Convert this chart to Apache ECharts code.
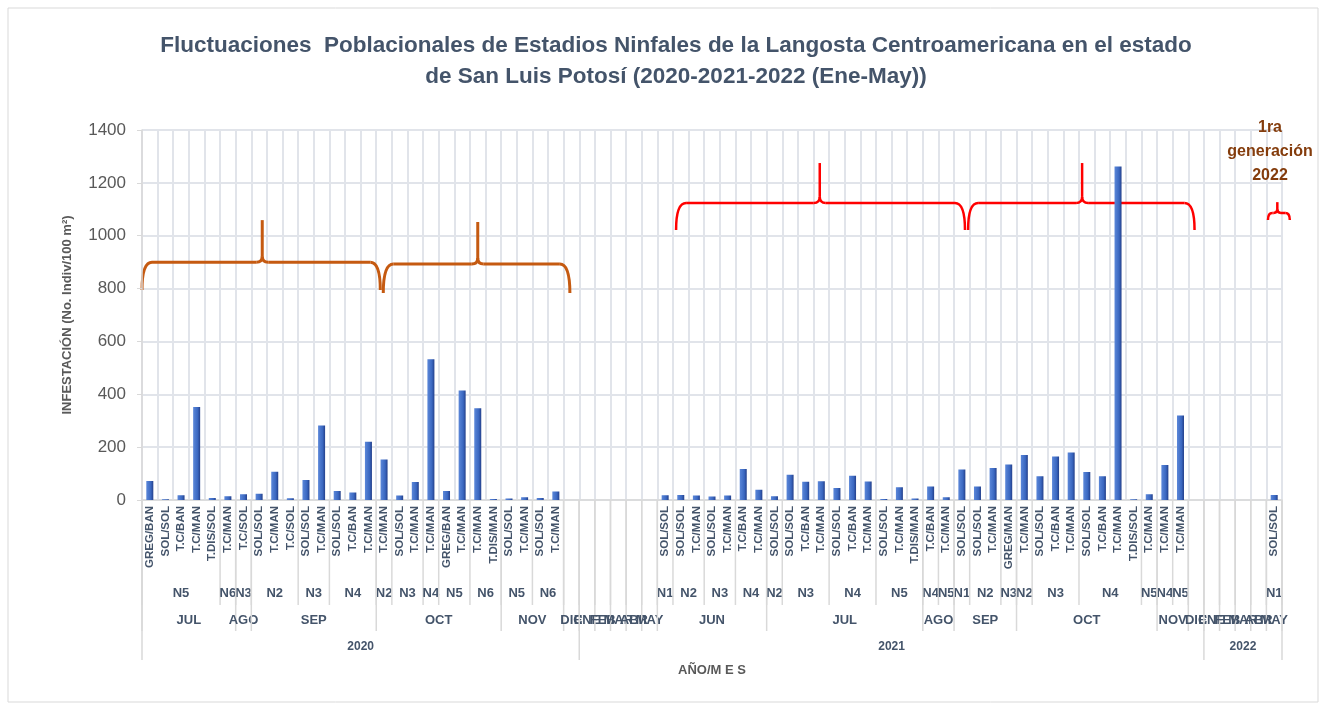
<!DOCTYPE html>
<html>
<head>
<meta charset="utf-8">
<script src="https://cdn.jsdelivr.net/npm/echarts@6/dist/echarts.min.js"></script>
<style>
  html, body { margin: 0; padding: 0; background: #fff; }
  #main { width: 1325px; height: 709px; }
</style>
</head>
<body>
<div id="main"></div>
<script>
// etapa/tratamiento por muestreo (nivel inferior del eje)
const etapas = [
  // 2020
  'GREG/BAN', 'SOL/SOL', 'T.C/BAN', 'T.C/MAN', 'T.DIS/SOL', 'T.C/MAN', 'T.C/SOL',
  'SOL/SOL', 'T.C/MAN', 'T.C/SOL', 'SOL/SOL', 'T.C/MAN', 'SOL/SOL', 'T.C/BAN', 'T.C/MAN',
  'T.C/MAN', 'SOL/SOL', 'T.C/MAN', 'T.C/MAN', 'GREG/BAN', 'T.C/MAN', 'T.C/MAN', 'T.DIS/MAN',
  'SOL/SOL', 'T.C/MAN', 'SOL/SOL', 'T.C/MAN', '',
  // 2021
  '', '', '', '', '',
  'SOL/SOL', 'SOL/SOL', 'T.C/MAN', 'SOL/SOL', 'T.C/MAN', 'T.C/BAN', 'T.C/MAN',
  'SOL/SOL', 'SOL/SOL', 'T.C/BAN', 'T.C/MAN', 'SOL/SOL', 'T.C/BAN', 'T.C/MAN', 'SOL/SOL', 'T.C/MAN', 'T.DIS/MAN',
  'T.C/BAN', 'T.C/MAN',
  'SOL/SOL', 'SOL/SOL', 'T.C/MAN', 'GREG/MAN',
  'T.C/MAN', 'SOL/SOL', 'T.C/BAN', 'T.C/MAN', 'SOL/SOL', 'T.C/BAN', 'T.C/MAN', 'T.DIS/SOL', 'T.C/MAN',
  'T.C/MAN', 'T.C/MAN', '',
  // 2022
  '', '', '', '', 'SOL/SOL'
];

// No. Indiv/100 m2
const infestacion = [
  72, 3, 18, 352, 8, 14, 22,
  24, 107, 7, 76, 282, 34, 28, 220,
  153, 17, 68, 533, 34, 414, 347, 4,
  6, 10, 8, 32, null,
  null, null, null, null, null,
  18, 19, 17, 13, 17, 117, 39,
  14, 96, 69, 71, 45, 92, 70, 4, 48, 6,
  51, 10,
  115, 51, 121, 134,
  170, 90, 165, 180, 106, 90, 1262, 3, 22,
  132, 320, null,
  null, null, null, null, 19
];

// [etiqueta, no. de categorias]
const ninfas = [
  ['N5', 5], ['N6', 1], ['N3', 1], ['N2', 3], ['N3', 2], ['N4', 3],
  ['N2', 1], ['N3', 2], ['N4', 1], ['N5', 2], ['N6', 2], ['N5', 2], ['N6', 2], ['', 1],
  ['', 1], ['', 1], ['', 1], ['', 1], ['', 1],
  ['N1', 1], ['N2', 2], ['N3', 2], ['N4', 2],
  ['N2', 1], ['N3', 3], ['N4', 3], ['N5', 3],
  ['N4', 1], ['N5', 1], ['N1', 1], ['N2', 2], ['N3', 1],
  ['N2', 1], ['N3', 3], ['N4', 4], ['N5', 1], ['N4', 1], ['N5', 1], ['', 1],
  ['', 1], ['', 1], ['', 1], ['', 1], ['N1', 1]
];
const meses = [
  ['JUL', 6], ['AGO', 1], ['SEP', 8], ['OCT', 8], ['NOV', 4], ['DIC', 1],
  ['ENE', 1], ['FEB', 1], ['MAR', 1], ['ABR', 1], ['MAY', 1], ['JUN', 7], ['JUL', 10],
  ['AGO', 2], ['SEP', 4], ['OCT', 9], ['NOV', 2], ['DIC', 1],
  ['ENE', 1], ['FEB', 1], ['MAR', 1], ['ABR', 1], ['MAY', 1]
];
const anios = [['2020', 28], ['2021', 40], ['2022', 5]];

// llaves de generacion: [cat. inicio, cat. fin, cat. pico, valor linea, valor extremos, valor pico, color]
const llaves = [
  [0.0, 15.26, 7.7, 900, 795, 1059, '#c55a11'],
  [15.45, 27.4, 21.5, 893, 783, 1052, '#c55a11'],
  [34.2, 52.7, 43.4, 1124, 1022, 1275, '#ff0000'],
  [52.9, 67.4, 60.2, 1124, 1022, 1275, '#ff0000'],
  [72.1, 73.5, 72.7, 1086, 1059, 1127, '#ff0000']
];

const fuente = 'Liberation Sans, Arial, sans-serif';
const gris = '#595959';
const azulGris = '#44546a';

const chart = echarts.init(document.getElementById('main'));

chart.setOption({
  animation: false,
  title: {
    text: 'Fluctuaciones  Poblacionales de Estadios Ninfales de la Langosta Centroamericana en el estado\nde San Luis Potosí (2020-2021-2022 (Ene-May))',
    left: 671,
    top: 25,
    textAlign: 'center',
    textStyle: {
      fontFamily: fuente,
      fontSize: 22.5,
      fontWeight: 'bold',
      color: azulGris,
      lineHeight: 31
    }
  },
  grid: { left: 142, right: 43, top: 130, bottom: 209 },
  xAxis: {
    type: 'category',
    data: etapas,
    boundaryGap: true,
    name: 'AÑO/M E S',
    nameLocation: 'middle',
    nameGap: 164,
    nameTextStyle: { fontFamily: fuente, fontSize: 13, fontWeight: 'bold', color: gris },
    axisLine: { lineStyle: { color: '#d9d9d9', width: 1.5 } },
    axisTick: { show: false },
    axisLabel: {
      interval: 0,
      rotate: 90,
      margin: 6,
      fontFamily: fuente,
      fontSize: 11.5,
      fontWeight: 'bold',
      color: azulGris
    },
    splitLine: { show: true, interval: 0, lineStyle: { color: '#e1e4ea', width: 2 } }
  },
  yAxis: {
    type: 'value',
    min: 0,
    max: 1400,
    interval: 200,
    name: 'INFESTACIÓN (No. Indiv/100 m²)',
    nameLocation: 'middle',
    nameGap: 68,
    nameTextStyle: { fontFamily: fuente, fontSize: 13, fontWeight: 'bold', color: gris },
    axisLine: { show: true, lineStyle: { color: '#d9d9d9', width: 1.5 } },
    axisTick: { show: true, length: 5, lineStyle: { color: '#d9d9d9' } },
    axisLabel: { fontFamily: fuente, fontSize: 17, color: gris, margin: 16, formatter: v => String(v) },
    splitLine: { lineStyle: { color: '#e1e4ea', width: 2 } }
  },
  series: [{
    type: 'bar',
    data: infestacion,
    barWidth: 7,
    itemStyle: {
      color: new echarts.graphic.LinearGradient(0, 0, 1, 0, [
        { offset: 0, color: '#5b87d9' },
        { offset: 0.65, color: '#3a67c0' },
        { offset: 1, color: '#233f8a' }
      ])
    }
  }]
});

// niveles del eje (ninfa / mes / año), separadores y llaves
function extras() {
  const p0 = chart.convertToPixel({ gridIndex: 0 }, [0, 0]);
  const p1 = chart.convertToPixel({ gridIndex: 0 }, [1, 0]);
  const w = p1[0] - p0[0];
  const xb = k => p0[0] - w / 2 + k * w;
  const yv = v => chart.convertToPixel({ gridIndex: 0 }, [0, v])[1];
  const y0 = p0[1];
  const els = [];

  const niveles = [
    { grupos: ninfas, yTexto: 593, yFin: 605, size: 13 },
    { grupos: meses, yTexto: 620, yFin: 631, size: 13 },
    { grupos: anios, yTexto: 647, yFin: 660, size: 12 }
  ];
  niveles.forEach(nv => {
    let k = 0;
    nv.grupos.forEach(([txt, n]) => {
      els.push({ type: 'line', shape: { x1: xb(k), y1: y0, x2: xb(k), y2: nv.yFin },
        style: { stroke: '#d9d9d9', lineWidth: 1.5 }, silent: true });
      if (txt) {
        els.push({ type: 'text', style: {
          text: txt, x: xb(k + n / 2), y: nv.yTexto, align: 'center', verticalAlign: 'middle',
          font: 'bold ' + nv.size + 'px ' + fuente, fill: azulGris
        }, silent: true });
      }
      k += n;
    });
    els.push({ type: 'line', shape: { x1: xb(k), y1: y0, x2: xb(k), y2: nv.yFin },
      style: { stroke: '#d9d9d9', lineWidth: 1.5 }, silent: true });
  });

  llaves.forEach(([ka, kb, kc, vL, vE, vP, col]) => {
    const xa = xb(ka), xz = xb(kb), xc = xb(kc);
    const yL = yv(vL), yE = yv(vE), yP = yv(vP);
    const r = Math.min(10, (xz - xa) / 5), r2 = Math.min(6, (xz - xa) / 6);
    const st = { stroke: col, lineWidth: col === '#ff0000' ? 2.5 : 3, fill: null };
    els.push(
      { type: 'bezierCurve', shape: { x1: xa, y1: yE, cpx1: xa, cpy1: yL, x2: xa + r, y2: yL }, style: st },
      { type: 'line', shape: { x1: xa + r, y1: yL, x2: xc - r2, y2: yL }, style: st },
      { type: 'bezierCurve', shape: { x1: xc - r2, y1: yL, cpx1: xc, cpy1: yL, x2: xc, y2: yL - r2 }, style: st },
      { type: 'line', shape: { x1: xc, y1: yL - r2, x2: xc, y2: yP }, style: st },
      { type: 'bezierCurve', shape: { x1: xc, y1: yL - r2, cpx1: xc, cpy1: yL, x2: xc + r2, y2: yL }, style: st },
      { type: 'line', shape: { x1: xc + r2, y1: yL, x2: xz - r, y2: yL }, style: st },
      { type: 'bezierCurve', shape: { x1: xz - r, y1: yL, cpx1: xz, cpy1: yL, x2: xz, y2: yE }, style: st }
    );
  });

  els.push({ type: 'text', style: {
    text: '1ra\ngeneración\n2022', x: 1270, y: 152, align: 'center', verticalAlign: 'middle',
    font: 'bold 16px ' + fuente, fill: '#843c0c', lineHeight: 24
  } });

  els.push({ type: 'rect', shape: { x: 8, y: 8, width: 1310, height: 694 },
    style: { fill: null, stroke: '#d9d9d9', lineWidth: 1 }, silent: true, z: -1 });

  chart.setOption({ graphic: els });
}
extras();
</script>
</body>
</html>
